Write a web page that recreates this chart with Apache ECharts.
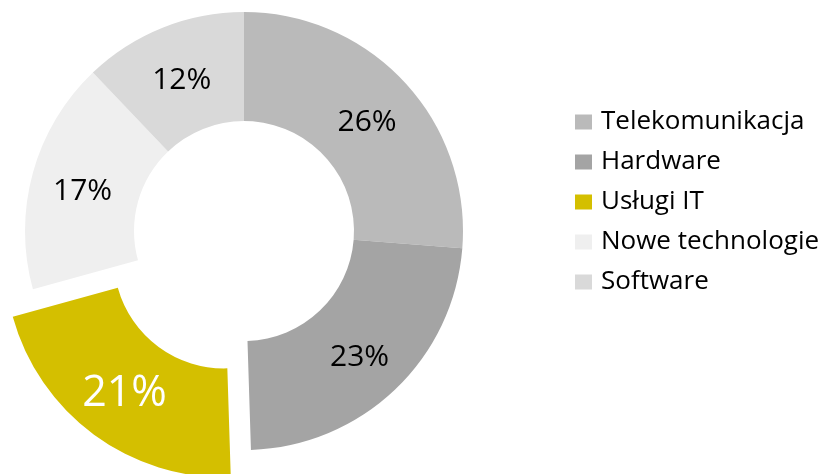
<!DOCTYPE html>
<html>
<head>
<meta charset="utf-8">
<script src="https://cdn.jsdelivr.net/npm/echarts@6/dist/echarts.min.js"></script>
<style>
  html, body { margin: 0; padding: 0; background: #ffffff; }
  #chart { width: 827px; height: 474px; }
</style>
</head>
<body>
<div id="chart"></div>
<script>
// Segments of the ring, clockwise from 12 o'clock
const categories = ['Telekomunikacja', 'Hardware', 'Usługi IT', 'Nowe technologie', 'Software'];
const shares = [26, 23, 21, 17, 12];
const colors = ['#bababa', '#a4a4a4', '#d4bf00', '#efefef', '#d9d9d9'];
const highlighted = 'Usługi IT';

const FONT = '"Open Sans", "Noto Sans", sans-serif';

const data = categories.map((name, i) => {
  const item = {
    name: name,
    value: shares[i],
    itemStyle: { color: colors[i] }
  };
  if (name === highlighted) {
    item.selected = true;
    item.label = { color: '#ffffff', fontSize: 43 };
  }
  return item;
});

const chart = echarts.init(document.getElementById('chart'), null, { renderer: 'canvas' });
chart.setOption({
  animation: false,
  backgroundColor: '#ffffff',
  legend: {
    orient: 'vertical',
    left: 570,
    top: 103,
    itemWidth: 17,
    itemHeight: 15,
    itemGap: 12,
    icon: 'rect',
    data: categories,
    selectedMode: false,
    textStyle: {
      fontFamily: FONT,
      fontSize: 26,
      color: '#000000',
      lineHeight: 28,
      padding: [0, 0, 0, 4]
    }
  },
  series: [{
    type: 'pie',
    center: [244, 231],
    radius: [110, 219],
    startAngle: 90,
    clockwise: true,
    selectedMode: 'single',
    selectedOffset: 34,
    avoidLabelOverlap: false,
    label: {
      show: true,
      position: 'inside',
      formatter: '{c}%',
      fontFamily: FONT,
      fontSize: 30,
      color: '#000000',
      offset: [0, 5]
    },
    labelLine: { show: false },
    emphasis: { disabled: true },
    data: data
  }]
});
</script>
</body>
</html>
